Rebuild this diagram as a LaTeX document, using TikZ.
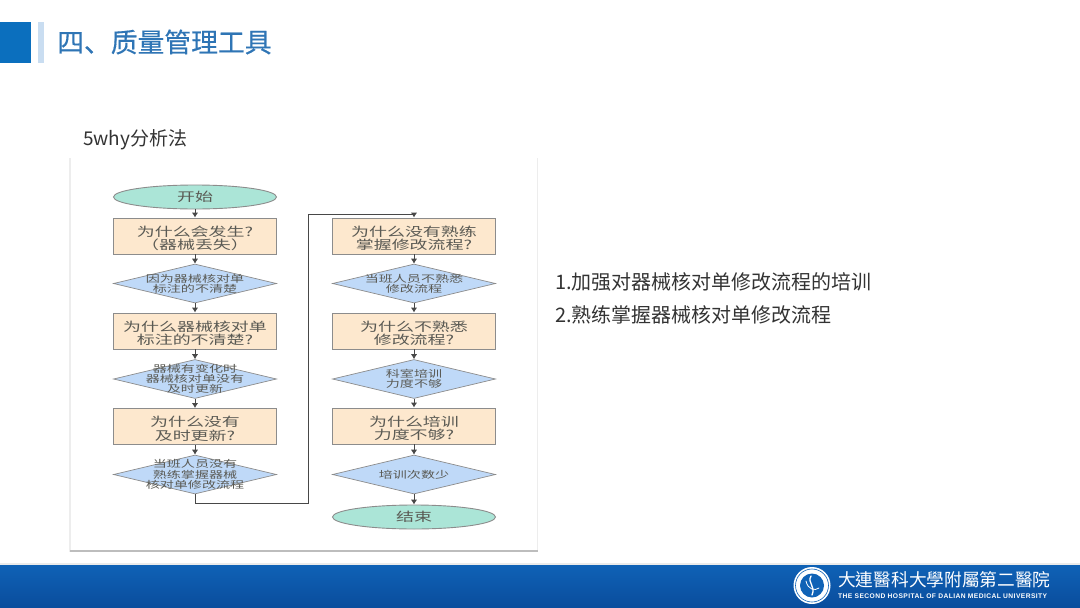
\documentclass[tikz,border=0pt]{standalone}
\usepackage{fontspec}
\usepackage{tikz}
\usetikzlibrary{shapes.geometric, arrows.meta}
\setmainfont{Noto Sans CJK SC}
\newfontfamily\widecjk[FakeStretch=1.45]{Noto Sans CJK SC}
\newfontfamily\titlecjk[FakeBold=0.35]{Noto Sans CJK SC}
\newfontfamily\tradcjk{Noto Sans CJK TC}
\newfontfamily\footlatin[LetterSpace=6.2]{Liberation Sans}
\definecolor{headblue}{HTML}{0B6FBE}
\definecolor{headpale}{HTML}{C9DDF1}
\definecolor{titleblue}{HTML}{2F75B5}
\definecolor{footdark}{HTML}{0A4C9C}
\definecolor{foottop}{HTML}{0F62B6}
\definecolor{bodygrey}{HTML}{333333}
\definecolor{whyline}{HTML}{8C8C8C}
\definecolor{whyink}{HTML}{5A5A54}
\definecolor{whyarrow}{HTML}{484848}
\definecolor{whygreen}{HTML}{ABE5D7}
\definecolor{whysand}{HTML}{FDE8CE}
\definecolor{whysky}{HTML}{BFD9F8}
\tikzset{
  whyend/.style={ellipse, draw=whyline, fill=whygreen, line width=0.9pt, minimum width=163pt, minimum height=24pt, inner sep=0pt, text=whyink, font=\widecjk\fontsize{12.4}{13.5}\selectfont},
  whybox/.style={rectangle, draw=whyline, fill=whysand, line width=0.9pt, minimum width=163pt, minimum height=36pt, inner sep=0pt, align=center, text=whyink, text height=28pt, font=\widecjk\fontsize{12.4}{13.4}\selectfont},
  whybranch/.style={diamond, draw=whyline, fill=whysky, line width=0.7pt, minimum width=163pt, minimum height=39pt, inner sep=0pt},
  whysmall/.style={align=center, inner sep=0pt, text=whyink, font=\widecjk\fontsize{9.7}{10.2}\selectfont},
  whylink/.style={draw=whyarrow, line width=1pt, -{Latex[length=5pt, width=6.5pt]}},
  slidetext/.style={anchor=west, inner sep=0pt, text=bodygrey, font=\fontsize{20}{24}\selectfont}
}
\begin{document}
\begin{tikzpicture}[x=1pt, y=-1pt]
	\useasboundingbox (0,0) rectangle (1080,608);
	% header
	\fill[headblue] (0,22) rectangle (31,63);
	\fill[headpale] (38,22) rectangle (44,63);
	\node[anchor=west, inner sep=0pt, text=titleblue, font=\titlecjk\fontsize{26.8}{30}\selectfont] (title) at (57,42) {四、质量管理工具};
	\node[slidetext, font=\fontsize{19}{23}\selectfont] (method) at (83,140) {5why分析法};
	% picture panel
	\fill[black!7] (69,158) rectangle (538,552);
	\fill[black!26] (70,550) rectangle (538,552);
	\fill[white] (71,158) rectangle (536.5,550);
	% left column
	\node[whyend] (start) at (195,197) {开始};
	\node[whybox] (boxa) at (195,236) {为什么会发生?\\（器械丢失）};
	\node[whybranch, label={[whysmall]center:因为器械核对单\\标注的不清楚}] (brancha) at (195,283.5) {};
	\node[whybox] (boxb) at (195,331) {为什么器械核对单\\标注的不清楚?};
	\node[whybranch, label={[whysmall]center:器械有变化时\\器械核对单没有\\及时更新}] (branchb) at (195,379) {};
	\node[whybox] (boxc) at (195,426.5) {为什么没有\\及时更新?};
	\node[whybranch, label={[whysmall]center:当班人员没有\\熟练掌握器械\\核对单修改流程}] (branchc) at (195,474.5) {};
	% right column
	\node[whybox] (boxd) at (414,236) {为什么没有熟练\\掌握修改流程?};
	\node[whybranch, label={[whysmall]center:当班人员不熟悉\\修改流程}] (branchd) at (414,283.5) {};
	\node[whybox] (boxe) at (414,331) {为什么不熟悉\\修改流程?};
	\node[whybranch, label={[whysmall]center:科室培训\\力度不够}] (branche) at (414,379) {};
	\node[whybox] (boxf) at (414,426) {为什么培训\\力度不够?};
	\node[whybranch, label={[whysmall]center:培训次数少}] (branchf) at (414,474.5) {};
	\node[whyend] (finish) at (414,517) {结束};
	% connectors
	\draw[whylink] (start) -- (boxa);
	\draw[whylink] (boxa) -- (brancha);
	\draw[whylink] (brancha) -- (boxb);
	\draw[whylink] (boxb) -- (branchb);
	\draw[whylink] (branchb) -- (boxc);
	\draw[whylink] (boxc) -- (branchc);
	\coordinate (turnlow) at (308,503);
	\coordinate (turnhigh) at (308,214);
	\draw[whylink] (branchc.south) |- (turnlow) -- (turnhigh) -| (boxd.north);
	\draw[whylink] (boxd) -- (branchd);
	\draw[whylink] (branchd) -- (boxe);
	\draw[whylink] (boxe) -- (branche);
	\draw[whylink] (branche) -- (boxf);
	\draw[whylink] (boxf) -- (branchf);
	\draw[whylink] (branchf) -- (finish);
	% measures
	\node[slidetext] (measurea) at (555,282) {1.加强对器械核对单修改流程的培训};
	\node[slidetext] (measureb) at (555,315) {2.熟练掌握器械核对单修改流程};
	% footer
	\fill[black!8] (0,563) rectangle (1080,565);
	\shade[top color=foottop, bottom color=footdark] (0,565) rectangle (1080,608);
	\node[circle, fill=white, minimum size=37pt, inner sep=0pt] (seal) at (812,585.5) {};
	\node[circle, draw=foottop, fill=white, line width=0.6pt, minimum size=33pt, inner sep=0pt] (sealring) at (seal) {};
	\node[circle, fill=foottop, minimum size=24pt, inner sep=0pt] (sealcore) at (seal) {};
	\draw[white, line width=1.3pt, line cap=round] (811,576) .. controls (807,583) and (816,586) .. (812,595);
	\draw[white, line width=0.8pt, line cap=round] (806,581) .. controls (808,590) and (815,591) .. (819,588);
	\node[anchor=west, inner sep=0pt, text=white, font=\tradcjk\fontsize{17.7}{20}\selectfont] (school) at (838,580) {大連醫科大學附屬第二醫院};
	\node[anchor=west, inner sep=0pt, text=white, font=\footlatin\bfseries\fontsize{6.7}{8}\selectfont] (schoolen) at (838,596) {THE SECOND HOSPITAL OF DALIAN MEDICAL UNIVERSITY};
\end{tikzpicture}
\end{document}
